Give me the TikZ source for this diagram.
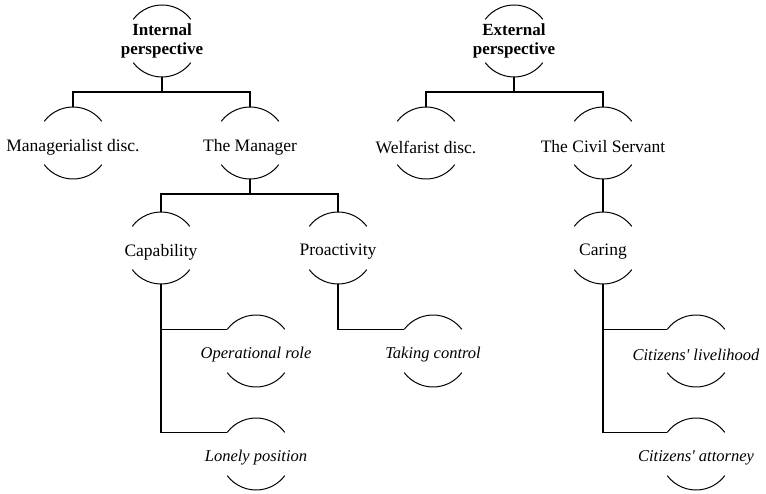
\documentclass[tikz,border=0pt]{standalone}
\usepackage{fontspec}
\setmainfont{Liberation Serif}
\usetikzlibrary{positioning}

\tikzset{
  bubble/.style={circle, minimum size=72pt, inner sep=0pt, outer sep=0pt},
  head/.style={bubble, label={[font=\bfseries\fontsize{17}{19}\selectfont, align=center]center:#1}},
  topic/.style={bubble, label={[font=\fontsize{17.5}{19}\selectfont, yshift=-4pt]center:#1}},
  leaf/.style={bubble, label={[font=\itshape\fontsize{16.5}{19}\selectfont, yshift=-4pt]center:#1}},
  link/.style={line width=1.3pt},
  rim/.style={line width=1pt}
}

\begin{document}
\begin{tikzpicture}[x=1pt,y=1pt]
    \useasboundingbox (0,0) rectangle (766,-494);
    % internal side
    \node[head={Internal\\perspective}] (intp) at (162,-41) {};
    \node[topic={Managerialist disc.}] (mgd) at (73,-143) {};
    \node[topic={The Manager}] (man) at (250,-143) {};
    \node[topic={Capability}] (cap) at (161,-248) {};
    \node[topic={Proactivity}] (pro) at (338,-248) {};
    \node[leaf={Operational role}] (opr) at (256,-351) {};
    \node[leaf={Taking control}] (tak) at (433,-351) {};
    \node[leaf={Lonely position}] (lon) at (256,-454) {};
    % external side
    \node[head={External\\perspective}] (extp) at (514,-41) {};
    \node[topic={Welfarist disc.}] (wel) at (426,-143) {};
    \node[topic={The Civil Servant}] (civ) at (603,-143) {};
    \node[topic={Caring}] (car) at (603,-248) {};
    \node[leaf={Citizens\textquotesingle{} livelihood}] (liv) at (696,-351) {};
    \node[leaf={Citizens\textquotesingle{} attorney}] (att) at (696,-454) {};

    % arcs above and below each node
    \foreach \n in {intp,mgd,man,cap,pro,opr,tak,lon,extp,wel,civ,car,liv,att} {
        \draw[rim] (\n.143) arc[start angle=143, end angle=37, radius=36pt];
        \draw[rim] (\n.217) arc[start angle=217, end angle=323, radius=36pt];
    }

    % tree lines
    \draw[link] (intp.south) -- ++(0,-15) -| (mgd.north);
    \draw[link] (intp.south) -- ++(0,-15) -| (man.north);
    \draw[link] (man.south) -- ++(0,-15) -| (cap.north);
    \draw[link] (man.south) -- ++(0,-15) -| (pro.north);
    \draw[link] (cap.south) |- (opr.143);
    \draw[link] (cap.south) |- (lon.143);
    \draw[link] (pro.south) |- (tak.143);
    \draw[link] (extp.south) -- ++(0,-15) -| (wel.north);
    \draw[link] (extp.south) -- ++(0,-15) -| (civ.north);
    \draw[link] (civ.south) -- (car.north);
    \draw[link] (car.south) |- (liv.143);
    \draw[link] (car.south) |- (att.143);
\end{tikzpicture}
\end{document}
